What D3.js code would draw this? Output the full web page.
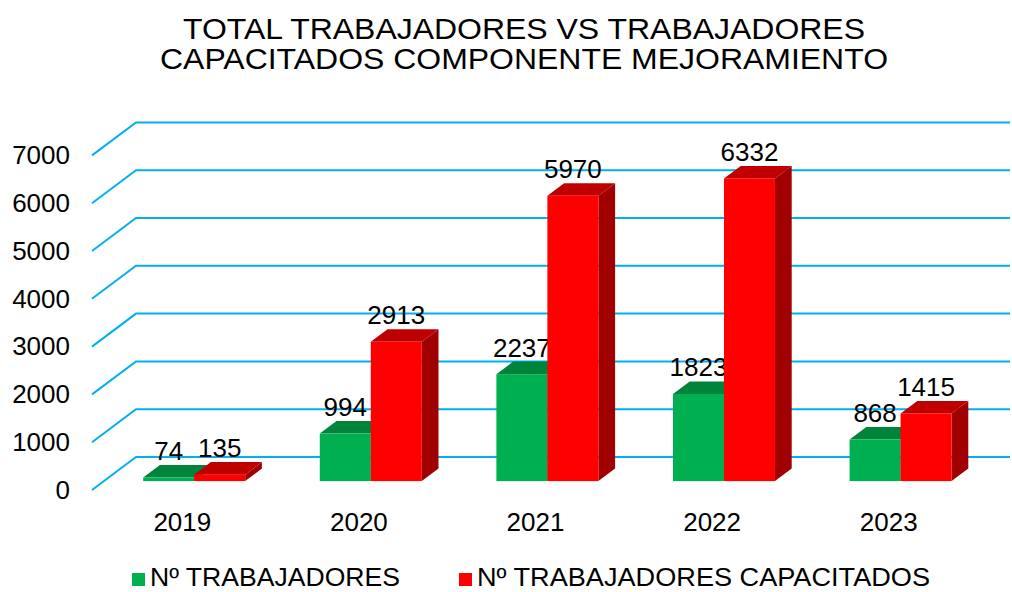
<!DOCTYPE html>
<html>
<head>
<meta charset="utf-8">
<script src="https://cdn.jsdelivr.net/npm/d3@7"></script>
<style>
body { margin: 0; background: #fff; }
svg text { font-family: "Liberation Sans", Arial, sans-serif; fill: #000; }
</style>
</head>
<body>
<svg id="chart" width="1012" height="592"></svg>
<script>
// data
years = ['2019', '2020', '2021', '2022', '2023'];
trabajadores = [74, 994, 2237, 1823, 868];
capacitados = [135, 2913, 5970, 6332, 1415];
yTicks = [0, 1000, 2000, 3000, 4000, 5000, 6000, 7000];
seriesNames = ['Nº TRABAJADORES', 'Nº TRABAJADORES CAPACITADOS'];
titleLines = ['TOTAL TRABAJADORES VS TRABAJADORES', 'CAPACITADOS COMPONENTE MEJORAMIENTO'];

// colours: front, top, side
greenCol = ['#00B050', '#00843C', '#006B30'];
redCol = ['#FF0000', '#C00000', '#A00000'];
gridCol = '#00B0F0';

// oblique 3d: full depth of the floor
depthX = 44;
depthY = -33;
barFront = 0.27;
barBack = 0.65;

svg = d3.select('#chart');

x = d3.scaleBand().domain(years).range([94, 977]);
y = d3.scaleLinear().domain([0, 7000]).range([490, 155.4]);
inner = d3.scaleBand().domain([0, 1]).range([-51, 51]);

function proj(px, py, d) {
    return [px + d * depthX, py + d * depthY];
}

// gridlines: short diagonal on the side wall, then along the back wall
svg.append('g')
    .selectAll('path')
    .data(yTicks)
    .enter()
    .append('path')
    .attr('fill', 'none')
    .attr('stroke', gridCol)
    .attr('stroke-width', 2)
    .attr('d', function(t) {
        var a = proj(92, y(t), 0);
        var b = proj(92, y(t), 1);
        return 'M' + a + 'L' + b + 'L1010,' + b[1];
    });

// y axis labels
yAxis = svg.append('g')
    .attr('transform', 'translate(92,0)')
    .call(d3.axisLeft(y).tickValues(yTicks).tickFormat(d3.format('d')).tickSize(0).tickPadding(22));
yAxis.select('.domain').remove();
yAxis.selectAll('text')
    .style('font-family', '"Liberation Sans", Arial, sans-serif')
    .style('font-size', '26px')
    .attr('fill', '#000');

// x axis labels
xAxis = svg.append('g')
    .attr('transform', 'translate(0,490)')
    .call(d3.axisBottom(x).tickSize(0).tickPadding(23));
xAxis.select('.domain').remove();
xAxis.selectAll('text')
    .style('font-family', '"Liberation Sans", Arial, sans-serif')
    .style('font-size', '26px')
    .attr('fill', '#000');

function drawBar(g, cx, value, cols) {
    var w = inner.bandwidth();
    var f0 = proj(cx, y(0), barFront);
    var f1 = proj(cx, y(value), barFront);
    var x0 = f0[0], x1 = f0[0] + w;
    var yb = f0[1], yt = f1[1];
    var dx = (barBack - barFront) * depthX;
    var dy = (barBack - barFront) * depthY;

    // side
    g.append('path')
        .attr('fill', cols[2])
        .attr('d', 'M' + x1 + ',' + yt + 'L' + (x1 + dx) + ',' + (yt + dy) +
            'L' + (x1 + dx) + ',' + (yb + dy) + 'L' + x1 + ',' + yb + 'Z');
    // top
    g.append('path')
        .attr('fill', cols[1])
        .attr('d', 'M' + x0 + ',' + yt + 'L' + (x0 + dx) + ',' + (yt + dy) +
            'L' + (x1 + dx) + ',' + (yt + dy) + 'L' + x1 + ',' + yt + 'Z');
    // front
    g.append('rect')
        .attr('x', x0)
        .attr('y', yt)
        .attr('width', w)
        .attr('height', yb - yt)
        .attr('fill', cols[0]);

    // value label
    g.append('text')
        .attr('x', x0 + w / 2)
        .attr('y', yt + dy - 5)
        .attr('text-anchor', 'middle')
        .style('font-size', '26px')
        .text(value);
}

bars = svg.append('g');
years.forEach(function(yr, i) {
    var c = x(yr) + x.bandwidth() / 2;
    drawBar(bars.append('g'), c + inner(0), trabajadores[i], greenCol);
    drawBar(bars.append('g'), c + inner(1), capacitados[i], redCol);
});

// title
svg.append('g')
    .selectAll('text')
    .data(titleLines)
    .enter()
    .append('text')
    .attr('x', 524)
    .attr('y', function(d, i) { return 39 + i * 30; })
    .attr('text-anchor', 'middle')
    .attr('textLength', function(d, i) { return i == 0 ? 682 : 728; })
    .attr('lengthAdjust', 'spacingAndGlyphs')
    .style('font-size', '30px')
    .text(function(d) { return d; });

// legend
legendX = [132, 459];
legendLen = [250, 453];
legend = svg.append('g')
    .selectAll('g')
    .data(seriesNames)
    .enter()
    .append('g')
    .attr('transform', function(d, i) { return 'translate(' + legendX[i] + ',0)'; });
legend.append('rect')
    .attr('x', 0)
    .attr('y', 573)
    .attr('width', 13)
    .attr('height', 13)
    .attr('fill', function(d, i) { return i == 0 ? greenCol[0] : redCol[0]; });
legend.append('text')
    .attr('x', 18)
    .attr('y', 586)
    .attr('textLength', function(d, i) { return legendLen[i]; })
    .attr('lengthAdjust', 'spacingAndGlyphs')
    .style('font-size', '25px')
    .text(function(d) { return d; });
</script>
</body>
</html>
